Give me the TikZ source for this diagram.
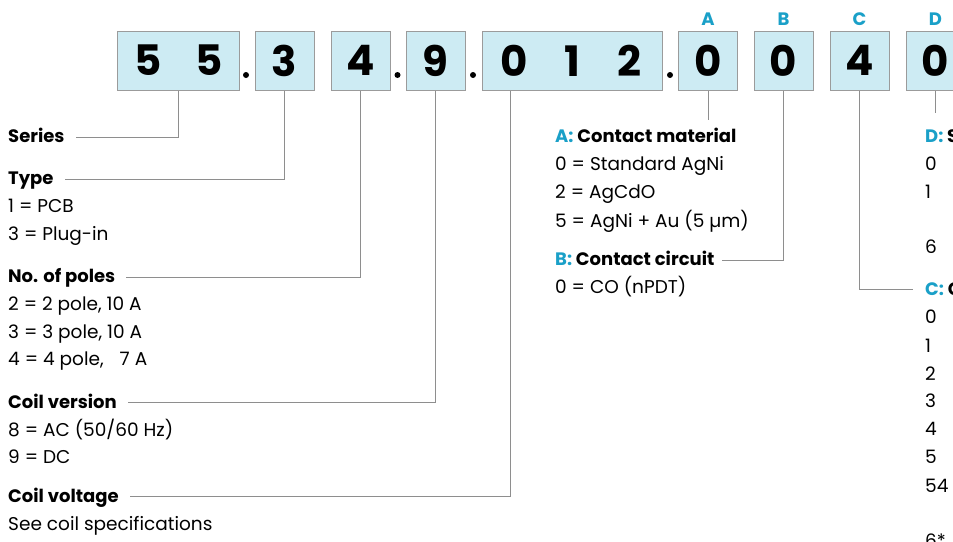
\documentclass[tikz,border=0pt]{standalone}
\usepackage{fontspec}
\setmainfont{Poppins}
\usetikzlibrary{calc}
\definecolor{boxfill}{HTML}{CDEBF3}
\definecolor{boxline}{HTML}{9B9B9B}
\definecolor{keyblue}{HTML}{1AA0C8}
\definecolor{connline}{HTML}{8E8E8E}
\newcommand\rsDig{\fontsize{42}{42}\selectfont\bfseries}
\newcommand\rsBody{\fontsize{18.5}{22}\selectfont}
\newcommand\rsHead{\fontsize{18}{22}\selectfont\bfseries}
\begin{document}
\begin{tikzpicture}[x=1pt,y=-1pt,
  digbox/.style={draw=boxline, fill=boxfill, line width=1pt, minimum width=59pt, minimum height=59pt, inner sep=0pt, font=\rsDig},
  dotm/.style={circle, fill=black, inner sep=0pt, minimum size=6pt},
  keylet/.style={anchor=base, inner sep=0pt, font=\fontsize{18}{18}\selectfont\bfseries, text=keyblue},
  head/.style={anchor=base west, inner sep=0pt, font=\rsHead},
  body/.style={anchor=base west, inner sep=0pt, font=\rsBody},
  conn/.style={draw=connline, line width=0.9pt}]
\useasboundingbox (0,0) rectangle (953,541);
\clip (0,0) rectangle (953,541);
\fill[white] (0,0) rectangle (953,541);
% code boxes
\node[digbox, minimum width=119pt] (b1) at (178.5,60.5) {\makebox[61pt]{5}\makebox[61pt]{5}};
\node[dotm] (p1) at (246,75) {};
\node[digbox] (b2) at (284.5,60.5) {3};
\node[digbox] (b3) at (360.5,60.5) {4};
\node[dotm] (p2) at (397.5,75) {};
\node[digbox] (b4) at (435.5,60.5) {9};
\node[dotm] (p3) at (473,75) {};
\node[digbox, minimum width=180pt] (b5) at (572,60.5) {\makebox[58pt]{0}\makebox[58pt]{1}\makebox[58pt]{2}};
\node[dotm] (p4) at (670,75) {};
\node[digbox] (bA) at (708,60.5) {0};
\node[digbox] (bB) at (783.5,60.5) {0};
\node[digbox] (bC) at (859.5,60.5) {4};
\node[digbox] (bD) at (935.5,60.5) {0};
% key letters
\node[keylet] (kA) at (708,25) {A};
\node[keylet] (kB) at (783.5,25) {B};
\node[keylet] (kC) at (859.5,25) {C};
\node[keylet] (kD) at (935.5,25) {D};
% left column
\node[head] (lSer) at (8,142) {Series};
\node[head] (lType) at (8,184) {Type};
\node[body] (t1) at (8,212) {1 = PCB};
\node[body] (t2) at (8,240) {3 = Plug-in};
\node[head] (lPol) at (8,282) {No. of poles};
\node[body] (t3) at (8,310) {2 = 2 pole, 10 A};
\node[body] (t4) at (8,338) {3 = 3 pole, 10 A};
\node[body] (t5) at (8,365) {4 = 4 pole,\hspace{0.6em} 7 A};
\node[head] (lCv) at (8,408) {Coil version};
\node[body] (t6) at (8,436) {8 = AC (50/60 Hz)};
\node[body] (t7) at (8,463) {9 = DC};
\node[head] (lCvo) at (8,502) {Coil voltage};
\node[body] (t8) at (8,530) {See coil specifications};
% middle column
\node[head] (lA) at (555,142) {{\color{keyblue}A:} Contact material};
\node[body] (a1) at (555,170) {0 = Standard AgNi};
\node[body] (a2) at (555,198) {2 = AgCdO};
\node[body] (a3) at (555,227) {5 = AgNi + Au (5 µm)};
\node[head] (lB) at (555,265) {{\color{keyblue}B:} Contact circuit};
\node[body] (bb1) at (555,293) {0 = CO (nPDT)};
% right column (cut by the page edge)
\node[head] (lD) at (925,142) {{\color{keyblue}D:} S};
\node[body] (d1) at (925,170) {0};
\node[body] (d2) at (925,198) {1};
\node[body] (d3) at (925,253) {6};
\node[head] (lC) at (925,295) {{\color{keyblue}C:} C};
\node[body] (c1) at (925,323) {0};
\node[body] (c2) at (925,352) {1};
\node[body] (c3) at (925,380) {2};
\node[body] (c4) at (925,407) {3};
\node[body] (c5) at (925,435) {4};
\node[body] (c6) at (925,463) {5};
\node[body] (c7) at (925,492) {54};
\node[body] (c8) at (925,547) {6*};
% connectors
\coordinate (eA) at (708,120);
\coordinate (eD) at (935.5,113);
\coordinate (s5) at ([xshift=29pt]b5.south west);
\draw[conn] (b1.south) |- ([xshift=11pt,yshift=5pt]lSer.base east);
\draw[conn] (b2.south) |- ([xshift=11pt,yshift=5pt]lType.base east);
\draw[conn] (b3.south) |- ([xshift=11pt,yshift=5pt]lPol.base east);
\draw[conn] (b4.south) |- ([xshift=11pt,yshift=5.5pt]lCv.base east);
\draw[conn] (s5) |- ([xshift=11pt,yshift=5.5pt]lCvo.base east);
\draw[conn] (bA.south) -- (eA);
\draw[conn] (bB.south) |- ([xshift=7pt,yshift=5pt]lB.base east);
\draw[conn] (bC.south) |- ([xshift=-12pt,yshift=6pt]lC.base west);
\draw[conn] (bD.south) -- (eD);
\end{tikzpicture}
\end{document}
